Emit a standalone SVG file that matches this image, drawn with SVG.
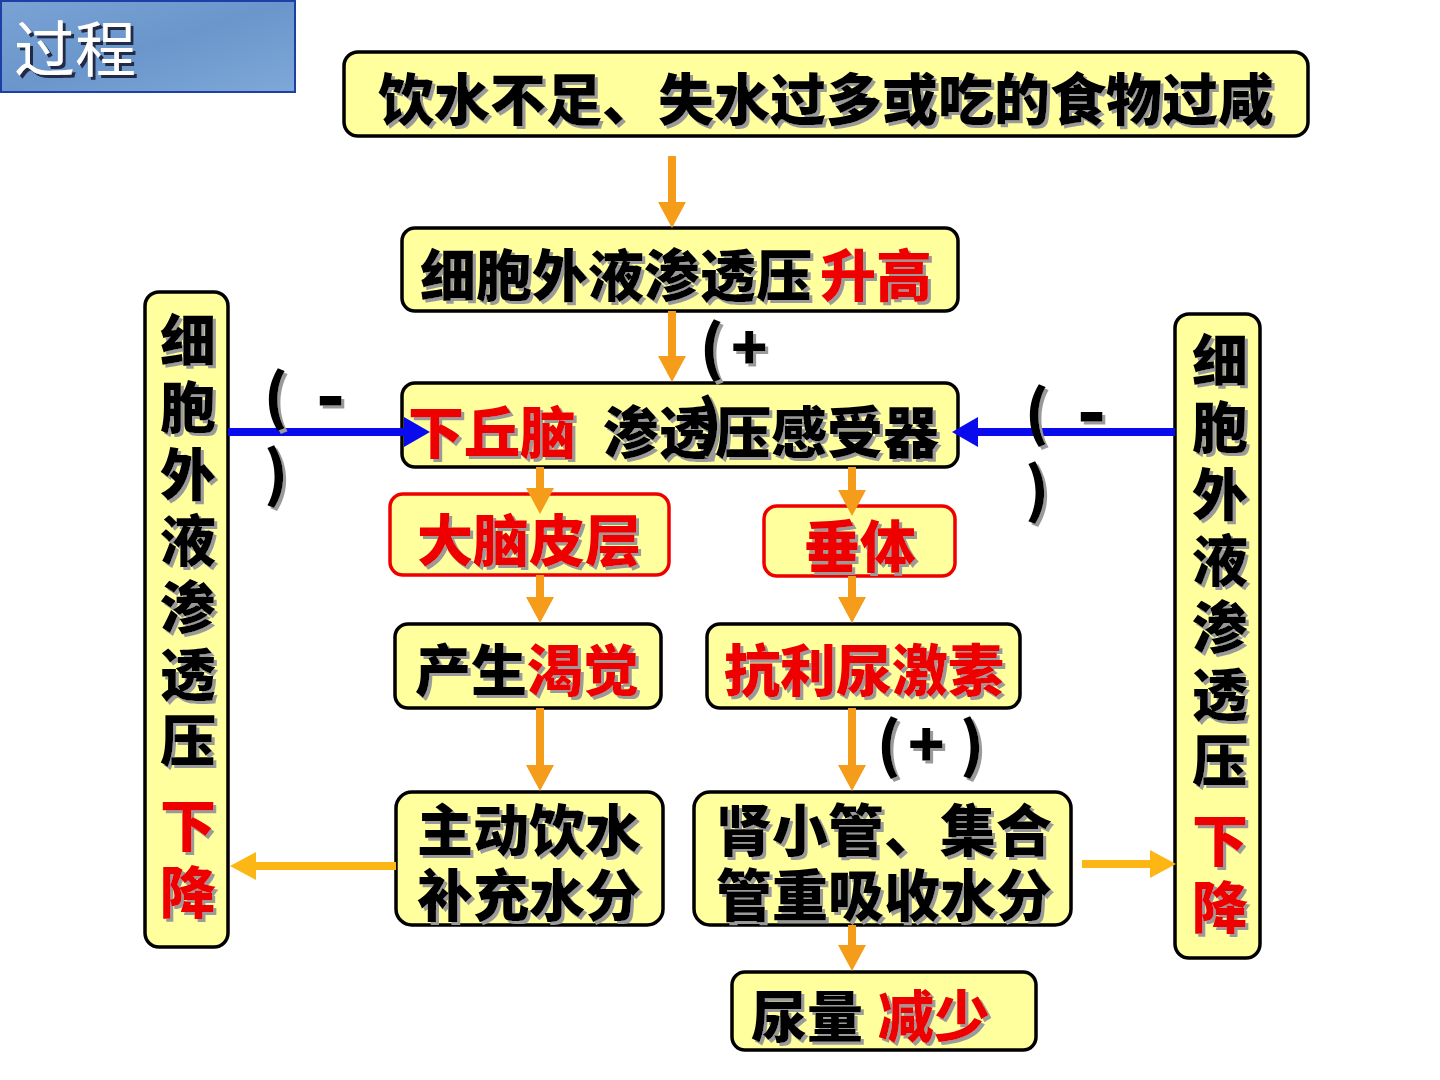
<svg xmlns="http://www.w3.org/2000/svg" width="1440" height="1080" viewBox="0 0 1440 1080">
<defs>
<filter id="sh" x="-10%" y="-10%" width="120%" height="130%">
<feOffset in="SourceAlpha" dx="3" dy="3" result="o"/>
<feFlood flood-color="#9a9a9a"/>
<feComposite in2="o" operator="in" result="s"/>
<feMerge><feMergeNode in="s"/><feMergeNode in="SourceGraphic"/></feMerge>
</filter>
<filter id="sh2" x="-10%" y="-10%" width="130%" height="130%">
<feOffset in="SourceAlpha" dx="3" dy="3" result="o"/>
<feFlood flood-color="#222a44"/>
<feComposite in2="o" operator="in" result="s"/>
<feMerge><feMergeNode in="s"/><feMergeNode in="SourceGraphic"/></feMerge>
</filter>
<linearGradient id="bg" x1="0" y1="0" x2="1" y2="1">
<stop offset="0" stop-color="#7aa3d4"/>
<stop offset="0.5" stop-color="#6a96cc"/>
<stop offset="1" stop-color="#7ea8d8"/>
</linearGradient>
<marker id="ho" markerUnits="userSpaceOnUse" markerWidth="26" markerHeight="28" refX="0" refY="14" orient="auto">
<path d="M0,0 L26,14 L0,28 z" fill="#f59d1a"/>
</marker>
<marker id="hg" markerUnits="userSpaceOnUse" markerWidth="26" markerHeight="28" refX="0" refY="14" orient="auto">
<path d="M0,0 L26,14 L0,28 z" fill="#fcb714"/>
</marker>
<marker id="hb" markerUnits="userSpaceOnUse" markerWidth="26" markerHeight="30" refX="0" refY="15" orient="auto">
<path d="M0,0 L26,15 L0,30 z" fill="#0a0aee"/>
</marker>
</defs>
<style>
.box{fill:#ffff9e;stroke:#000;stroke-width:3.5}
.rbox{fill:#ffff9e;stroke:#ee0000;stroke-width:3.5}
.t{font-family:"Noto Sans CJK SC","Noto Sans",sans-serif;font-weight:900;font-size:56px;fill:#000;filter:url(#sh)}
.v{writing-mode:vertical-rl;text-orientation:upright;letter-spacing:10.7px}
.r{fill:#ee0000}
.lab{font-family:"Noto Sans CJK SC","Noto Sans",sans-serif;font-weight:900;font-size:60px;fill:#000;filter:url(#sh)}
.dash{font-size:76px}
.ao{stroke:#f59d1a;stroke-width:8;fill:none}
.ag{stroke:#fcb714;stroke-width:8;fill:none}
.ab{stroke:#0a0aee;stroke-width:8;fill:none}
</style>
<rect width="1440" height="1080" fill="#ffffff"/>

<g id="title">
<rect x="1" y="1" width="294" height="91" fill="url(#bg)" stroke="#1f3fa8" stroke-width="2"/>
<text x="14" y="72" font-family="'Liberation Serif','Noto Sans CJK SC',serif" font-size="61" fill="#ffffff" filter="url(#sh2)">过程</text>
</g>

<g id="n-cause">
<rect class="box" x="344" y="52" width="964" height="84" rx="14"/>
<text class="t" x="826" y="120" text-anchor="middle">饮水不足、失水过多或吃的食物过咸</text>
</g>

<g id="n-rise">
<rect class="box" x="402" y="228" width="556" height="83" rx="13"/>
<text class="t" x="420" y="296">细胞外液渗透压<tspan class="r" x="820">升高</tspan></text>
</g>

<g id="n-receptor">
<rect class="box" x="402" y="383" width="556" height="84" rx="13"/>
<text class="t" x="408" y="453"><tspan class="r">下丘脑</tspan><tspan x="603">渗透压感受器</tspan></text>
</g>

<g id="n-cortex">
<rect class="rbox" x="390" y="494" width="279" height="81" rx="13"/>
<text class="t r" x="529" y="561" text-anchor="middle">大脑皮层</text>
</g>

<g id="n-pituitary">
<rect class="rbox" x="764" y="506" width="191" height="70" rx="13"/>
<text class="t r" x="860" y="567" text-anchor="middle">垂体</text>
</g>

<g id="n-thirst">
<rect class="box" x="395" y="624" width="266" height="84" rx="13"/>
<text class="t" x="415" y="691">产生<tspan class="r">渴觉</tspan></text>
</g>

<g id="n-adh">
<rect class="box" x="707" y="624" width="313" height="84" rx="13"/>
<text class="t r" x="864" y="691" text-anchor="middle">抗利尿激素</text>
</g>

<g id="n-drink">
<rect class="box" x="396" y="792" width="267" height="133" rx="16"/>
<text class="t" text-anchor="middle"><tspan x="529" y="851">主动饮水</tspan><tspan x="529" y="916">补充水分</tspan></text>
</g>

<g id="n-kidney">
<rect class="box" x="694" y="792" width="377" height="133" rx="16"/>
<text class="t" text-anchor="middle"><tspan x="884" y="851">肾小管、集合</tspan><tspan x="884" y="916">管重吸收水分</tspan></text>
</g>

<g id="n-urine">
<rect class="box" x="732" y="972" width="304" height="78" rx="13"/>
<text class="t" x="751" y="1037">尿量<tspan class="r" x="878">减少</tspan></text>
</g>

<g id="n-left">
<rect class="box" x="145" y="292" width="83" height="655" rx="14"/>
<text class="t v" x="188" y="312">细胞外液渗透压</text>
<text class="t v r" x="188" y="797">下降</text>
</g>

<g id="n-right">
<rect class="box" x="1175" y="314" width="85" height="644" rx="14"/>
<text class="t v" x="1220" y="332">细胞外液渗透压</text>
<text class="t v r" x="1220" y="812">下降</text>
</g>

<g id="connectors">
<line class="ao" x1="672" y1="156" x2="672" y2="202" marker-end="url(#ho)"/>
<line class="ao" x1="672" y1="311" x2="672" y2="356" marker-end="url(#ho)"/>
<line class="ao" x1="540" y1="467" x2="540" y2="488" marker-end="url(#ho)"/>
<line class="ao" x1="852" y1="467" x2="852" y2="490" marker-end="url(#ho)"/>
<line class="ao" x1="540" y1="575" x2="540" y2="597" marker-end="url(#ho)"/>
<line class="ao" x1="852" y1="576" x2="852" y2="597" marker-end="url(#ho)"/>
<line class="ao" x1="540" y1="708" x2="540" y2="765" marker-end="url(#ho)"/>
<line class="ao" x1="852" y1="708" x2="852" y2="765" marker-end="url(#ho)"/>
<line class="ao" x1="852" y1="925" x2="852" y2="945" marker-end="url(#ho)"/>
<line class="ag" x1="396" y1="866" x2="256" y2="866" marker-end="url(#hg)"/>
<line class="ag" x1="1082" y1="864" x2="1150" y2="864" marker-end="url(#hg)"/>
<line class="ab" x1="228" y1="432" x2="404" y2="432" marker-end="url(#hb)"/>
<line class="ab" x1="1175" y1="432" x2="978" y2="432" marker-end="url(#hb)"/>
</g>

<g id="labels">
<text class="lab" x="700" y="370">(<tspan x="731">+</tspan></text>
<text class="lab" x="698" y="445">)</text>
<text class="lab" x="264" y="419">(<tspan class="dash" x="316" y="423">-</tspan></text>
<text class="lab" x="264" y="496">)</text>
<text class="lab" x="1025" y="435">(<tspan class="dash" x="1077" y="439">-</tspan></text>
<text class="lab" x="1025" y="512">)</text>
<text class="lab" x="877" y="767">(<tspan x="908">+</tspan><tspan x="960">)</tspan></text>
</g>
</svg>
